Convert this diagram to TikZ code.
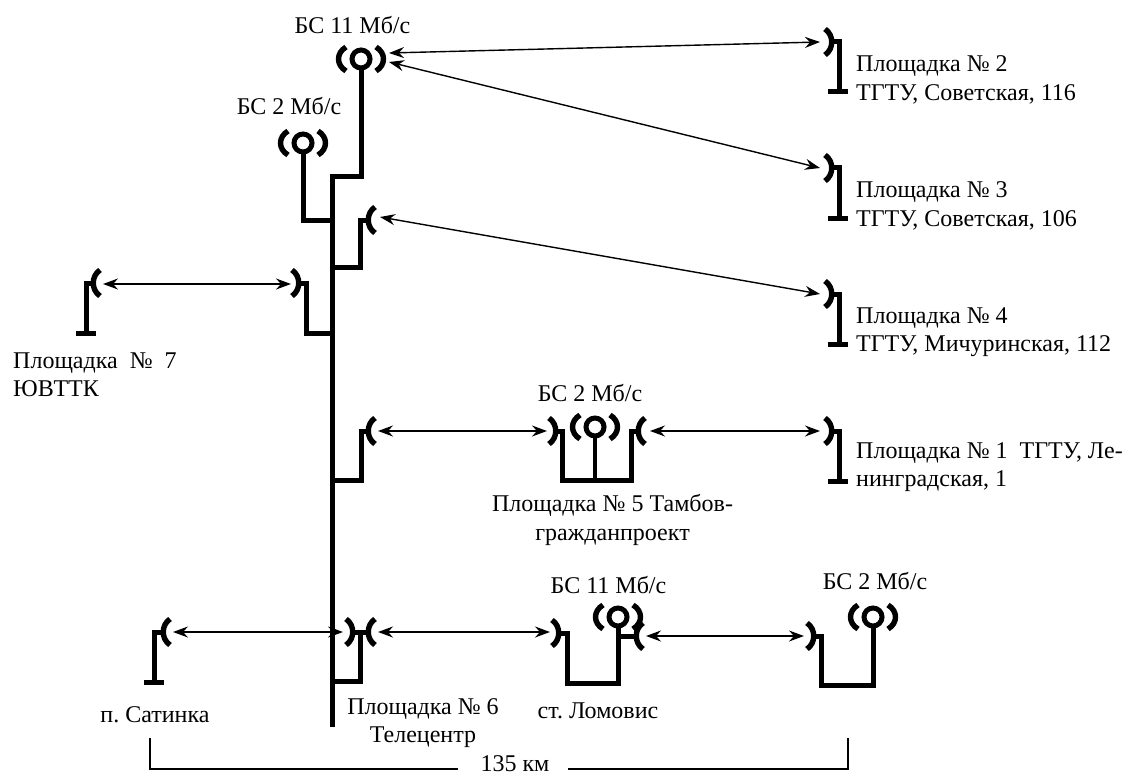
\documentclass[tikz,border=0pt]{standalone}
\usepackage{fontspec}
\setmainfont{Liberation Serif}
\usetikzlibrary{arrows.meta}
\tikzset{
  x=1pt,y=-1pt,
  wire/.style={line width=5pt,line join=miter,line cap=butt},
  dishline/.style={line width=5.4pt,line cap=butt},
  ringline/.style={line width=5pt},
  link/.style={line width=1.4pt,{Stealth[length=15pt,width=11pt,inset=5pt]}-{Stealth[length=15pt,width=11pt,inset=5pt]}},
  thin rule/.style={line width=1.1pt},
  lab/.style={font=\frenchspacing\fontsize{24}{28.5}\selectfont,inner sep=0pt,align=left},
  labc/.style={lab,align=center}
}
\newcommand{\dishO}[2]{\coordinate (#1) at (#2);
  \draw[dishline] ([shift={(7,-13)}]#1) .. controls ([shift={(-2,-7)}]#1) and ([shift={(-2,7)}]#1) .. ([shift={(7,13)}]#1);}
\newcommand{\dishC}[2]{\coordinate (#1) at (#2);
  \draw[dishline] ([shift={(-7,-13)}]#1) .. controls ([shift={(2,-7)}]#1) and ([shift={(2,7)}]#1) .. ([shift={(-7,13)}]#1);}
\newcommand{\station}[2]{\coordinate (#1) at (#2);
  \draw[ringline] (#1) circle (9);
  \draw[dishline] ([shift={(-15,-12)}]#1) .. controls ([shift={(-25,-6)}]#1) and ([shift={(-25,6)}]#1) .. ([shift={(-15,12)}]#1);
  \draw[dishline] ([shift={(15,-12)}]#1) .. controls ([shift={(25,-6)}]#1) and ([shift={(25,6)}]#1) .. ([shift={(15,12)}]#1);}
\begin{document}
\begin{tikzpicture}
\useasboundingbox (0,0) rectangle (1126,778);
% mast
\coordinate (mastT) at (332.5,175);
\coordinate (mastB) at (332.5,727);
\draw[wire] (mastT) -- (mastB);
% top stations
\station{bsA}{361,59}
\station{bsB}{303,143}
\draw[wire] ([shift={(0,10)}]bsA) -- (361,177) -- (330,177);
\draw[wire] ([shift={(0,10)}]bsB) -- (303,220) -- (332.5,220);
% branch to the upper dish
\dishO{dA}{368,220}
\draw[wire] (330,267) -- (360.5,267) -- (360.5,220) -- (dA);
% site 7
\dishO{dB}{93,283}
\draw[wire] (dB) -- (86,283) -- (86,333);
\draw[wire] (76,333) -- (96,333);
\dishC{dC}{299,283}
\draw[wire] (dC) -- (306,283) -- (306,333) -- (332.5,333);
% right sites
\dishC{pA}{832,42}
\draw[wire] (pA) -- (839,42) -- (839,92);
\draw[wire] (828,92) -- (848,92);
\dishC{pB}{832,168}
\draw[wire] (pB) -- (839,168) -- (839,218);
\draw[wire] (828,218) -- (848,218);
\dishC{pC}{832,294}
\draw[wire] (pC) -- (839,294) -- (839,344);
\draw[wire] (828,344) -- (848,344);
\dishC{pD}{832,431}
\draw[wire] (pD) -- (839,431) -- (839,481);
\draw[wire] (828,481) -- (848,481);
% middle group
\dishO{dD}{368,431}
\draw[wire] (330,480) -- (361,480) -- (361,431) -- (dD);
\dishC{mA}{556,431}
\dishO{mB}{638,431}
\station{bsC}{595,427}
\draw[wire] (mA) -- (562.5,431) -- (562.5,480) -- (631,480) -- (631,431) -- (mB);
\draw[line width=4.5pt] ([shift={(0,10)}]bsC) -- (595,480);
% bottom group
\dishC{eA}{353,632}
\dishO{eB}{368,632}
\draw[wire] (eA) -- (eB);
\draw[wire] (330,681) -- (360,681) -- (360,632);
\dishO{fA}{163,632}
\draw[wire] (fA) -- (154,632) -- (154,682);
\draw[wire] (144,682) -- (164,682);
\dishC{gA}{559,633}
\station{bsD}{618,617}
\dishO{gB}{636,636}
\draw[wire] (gA) -- (567,633) -- (567,683) -- (618,683) -- ([shift={(0,10)}]bsD);
\draw[wire] (618,636) -- (gB);
\dishC{hA}{814,636}
\station{bsE}{873,617}
\draw[wire] (hA) -- (821,636) -- (821,685) -- (873,685) -- ([shift={(0,10)}]bsE);
% links
\draw[link] ([shift={(28,-6)}]bsA) -- ([xshift=-12]pA);
\draw[link] ([shift={(28,3)}]bsA) -- ([xshift=-12]pB);
\draw[link] ([shift={(12,-3)}]dA) -- ([xshift=-12]pC);
\draw[link] ([shift={(10,1)}]dB) -- ([shift={(-8,1)}]dC);
\draw[link] ([xshift=10]dD) -- ([xshift=-9]mA);
\draw[link] ([xshift=12]mB) -- ([xshift=-12]pD);
\draw[link] ([xshift=10]fA) -- ([xshift=-10]eA);
\draw[link] ([xshift=10]eB) -- ([shift={(-9,-1)}]gA);
\draw[link] ([xshift=10]gB) -- ([xshift=-10]hA);
% labels
\node[labc] (tA) at (352.5,25) {БС 11 Мб/с};
\node[labc] (tB) at (289,106) {БС 2 Мб/с};
\node[lab,anchor=west] (tC) at (856,80) {Площадка № 2\\ТГТУ, Советская, 116};
\node[lab,anchor=west] (tD) at (856,206) {Площадка № 3\\ТГТУ, Советская, 106};
\node[lab,anchor=west] (tE) at (856,332) {Площадка № 4\\ТГТУ, Мичуринская, 112};
\node[lab,anchor=west] (tF) at (856,467) {Площадка № 1~~ТГТУ, Ле-\\нинградская, 1};
\node[lab,anchor=west] (tG) at (13,375) {Площадка~~№~~7\\ЮВТТК};
\node[labc] (tH) at (590,393) {БС 2 Мб/с};
\node[labc] (tI) at (612.5,520) {Площадка № 5 Тамбов-\\гражданпроект};
\node[labc] (tJ) at (608.5,585) {БС 11 Мб/с};
\node[labc] (tK) at (875,581) {БС 2 Мб/с};
\node[labc] (tL) at (155,715) {п. Сатинка};
\node[labc] (tM) at (423,723) {Площадка № 6\\Телецентр};
\node[labc] (tN) at (598,711) {ст. Ломовис};
\node[labc] (tO) at (515,764) {135 км};
% span bracket
\coordinate (bL) at (150,738);
\coordinate (bR) at (848,738);
\coordinate (bLe) at (458,769);
\coordinate (bRe) at (568,769);
\draw[thin rule] (bL) |- (bLe);
\draw[thin rule] (bR) |- (bRe);
\end{tikzpicture}
\end{document}
